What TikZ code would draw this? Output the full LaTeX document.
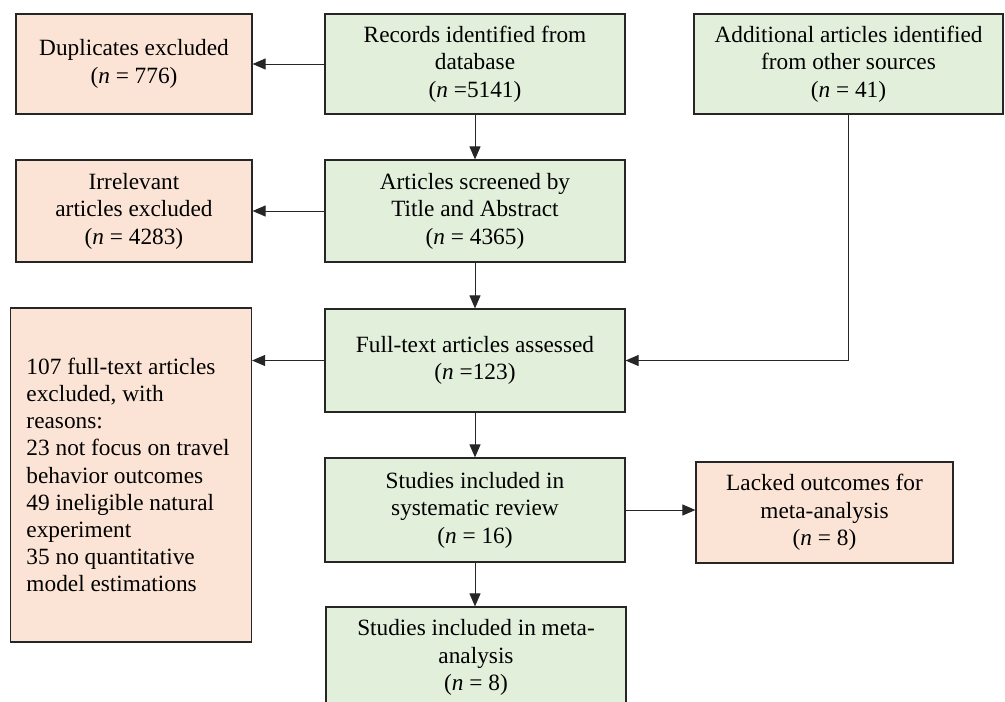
\documentclass[tikz,border=0pt]{standalone}
\usepackage{fontspec}
\setmainfont{Liberation Serif}
\usetikzlibrary{arrows.meta}
\definecolor{boxgreen}{HTML}{E2EFDA}
\definecolor{boxpeach}{HTML}{FBE4D5}
\begin{document}
\begin{tikzpicture}[x=1pt,y=-1pt,
  box/.style={draw=black!85, line width=1.2pt, inner sep=0pt, align=center,
    font=\fontsize{23.3}{27.5}\selectfont},
  gbox/.style={box, fill=boxgreen},
  pbox/.style={box, fill=boxpeach},
  arr/.style={draw=black!85, line width=1pt, -{Triangle[length=13pt,width=11pt]}}]
\useasboundingbox (0,0) rectangle (1005,702);
\node[pbox, minimum width=236pt, minimum height=100pt] (dup) at (134,64)
  {Duplicates excluded\\(\textit{n} = 776)};
\node[gbox, minimum width=300pt, minimum height=100pt] (rec) at (475,64)
  {Records identified from\\database\\(\textit{n} =5141)};
\node[gbox, minimum width=309pt, minimum height=100pt] (add) at (848.5,64)
  {Additional articles identified\\from other sources\\(\textit{n} = 41)};
\node[pbox, minimum width=236pt, minimum height=102pt] (irr) at (134,211)
  {Irrelevant\\articles excluded\\(\textit{n} = 4283)};
\node[gbox, minimum width=300pt, minimum height=102pt] (scr) at (475,211)
  {Articles screened by\\Title and Abstract\\(\textit{n} = 4365)};
\node[gbox, minimum width=300pt, minimum height=103pt] (ft) at (475,360.5)
  {Full-text articles assessed\\(\textit{n} =123)};
\node[pbox, minimum width=241pt, minimum height=334pt, align=left] (exc) at (131,475)
  {\begin{minipage}{209pt}\fontsize{23.3}{27.2}\selectfont
   107 full-text articles\\excluded, with\\reasons:\\23 not focus on travel\\behavior outcomes\\49 ineligible natural\\experiment\\35 no quantitative\\model estimations\end{minipage}};
\node[gbox, minimum width=300pt, minimum height=104pt] (sr) at (475,510)
  {Studies included in\\systematic review\\(\textit{n} = 16)};
\node[pbox, minimum width=257pt, minimum height=101pt] (lack) at (824.5,512.5)
  {Lacked outcomes for\\meta-analysis\\(\textit{n} = 8)};
\node[gbox, minimum width=300pt, minimum height=101pt] (meta) at (476,657.5)
  {Studies included in meta-\\analysis\\(\textit{n} = 8)};
\draw[arr] (rec.west) -- (dup.east);
\draw[arr] (rec.south) -- (scr.north);
\draw[arr] (scr.west) -- (irr.east);
\draw[arr] (scr.south) -- (ft.north);
\draw[arr] (ft.west) -- (ft.west -| exc.east);
\draw[arr] (add.south) |- (ft.east);
\draw[arr] (ft.south) -- (sr.north);
\draw[arr] (sr.east) -- (sr.east -| lack.west);
\draw[arr] (sr.south) -- (sr.south |- meta.north);
\end{tikzpicture}
\end{document}
